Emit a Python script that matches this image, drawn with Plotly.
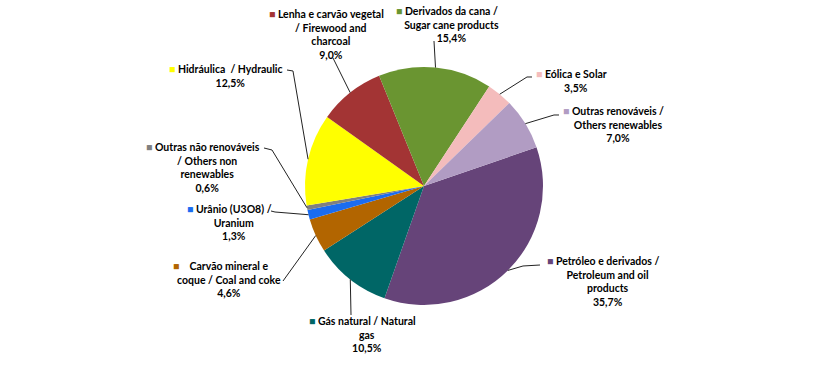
import math
import plotly.graph_objects as go

# ---------------- data ----------------
labels = [
    "Petróleo e derivados /<br>Petroleum and oil<br>products",
    "Gás natural / Natural<br>gas",
    "Carvão mineral e<br>coque / Coal and coke",
    "Urânio (U3O8) /<br>Uranium",
    "Outras não renováveis<br>/ Others non<br>renewables",
    "Hidráulica  / Hydraulic",
    "Lenha e carvão vegetal<br>/ Firewood and<br>charcoal",
    "Derivados da cana /<br>Sugar cane products",
    "Eólica e Solar",
    "Outras renováveis /<br>Others renewables",
]
values = [35.7, 10.5, 4.6, 1.3, 0.6, 12.5, 9.0, 15.4, 3.5, 7.0]
pct_text = ["35,7%", "10,5%", "4,6%", "1,3%", "0,6%", "12,5%", "9,0%", "15,4%", "3,5%", "7,0%"]
colors = ["#664479", "#006666", "#B26500", "#1A6CF0", "#808080",
          "#FFFF00", "#A33434", "#6A9531", "#F4BCBC", "#B19CC3"]

# ---------------- layout geometry (pixels) ----------------
W, H = 826, 378
CX, CY, R = 424, 186, 119
ROT = 71

# label text centre x, first-line centre y, leader start, optional elbow, gap after square
label_pos = [
    dict(x=607, y=262, start=(540, 265), elbow=(523, 266), gap=1),
    dict(x=367, y=322, start=(351, 315), elbow=None, gap=1),
    dict(x=229, y=267, start=(283, 281), elbow=None, gap=4),
    dict(x=233, y=210, start=(271, 211), elbow=(275, 212), gap=1),
    dict(x=207, y=148, start=(264, 148), elbow=(272, 150), gap=1),
    dict(x=230, y=70, start=(287, 70), elbow=(293, 71), gap=1),
    dict(x=331, y=15, start=(333, 58), elbow=None, gap=1),
    dict(x=451, y=12, start=(434, 41), elbow=None, gap=1),
    dict(x=575, y=75, start=(532, 77), elbow=(527, 77), gap=1),
    dict(x=618, y=112, start=(559, 115), elbow=(554, 115), gap=1),
]


def px(x):
    return x / W


def py(y):
    return 1 - y / H


fig = go.Figure(go.Pie(
    labels=[l.replace("<br>", " ") for l in labels],
    values=values,
    sort=False,
    direction="clockwise",
    rotation=ROT,
    marker=dict(colors=colors, line=dict(width=0)),
    textinfo="none",
    showlegend=False,
    domain=dict(x=[px(CX - R), px(CX + R)], y=[py(CY + R), py(CY - R)]),
))

total = sum(values)
cum = 0.0
annotations = []
shapes = []
LINE_H = 13.6
for i, v in enumerate(values):
    mid = ROT + 360.0 * (cum + v / 2) / total
    cum += v
    a = math.radians(mid)
    ex = CX + R * math.sin(a)
    ey = CY - R * math.cos(a)
    lp = label_pos[i]
    pts = [lp["start"]]
    if lp["elbow"]:
        pts.append(lp["elbow"])
    pts.append((ex, ey))
    path = "M " + " L ".join(f"{px(x):.5f},{py(y):.5f}" for x, y in pts)
    shapes.append(dict(type="path", path=path, xref="paper", yref="paper",
                       line=dict(color="#222222", width=1)))

    lines = labels[i].split("<br>")
    gap = "&nbsp;" * lp["gap"]
    sq = f"<span style='color:{colors[i]}'>■</span>{gap}"
    pad = f"{gap}<span style='color:rgba(0,0,0,0)'>■</span>"
    lines[0] = sq + lines[0] + pad
    text = "<br>".join(lines + [pct_text[i]])
    annotations.append(dict(
        x=px(lp["x"]), y=py(lp["y"] - LINE_H / 2 - 1),
        xref="paper", yref="paper", xanchor="center", yanchor="top",
        text=text, showarrow=False, align="center",
        font=dict(family="Lato", size=10.5, color="#000000", weight="bold"),
        borderpad=0,
    ))

fig.update_layout(
    width=W, height=H,
    margin=dict(l=0, r=0, t=0, b=0),
    paper_bgcolor="white",
    plot_bgcolor="white",
    annotations=annotations,
    shapes=shapes,
    font=dict(family="Lato", size=10.5),
)

fig.write_html("out.html", config={"displayModeBar": False},
               post_script="document.body.style.margin='0';")
